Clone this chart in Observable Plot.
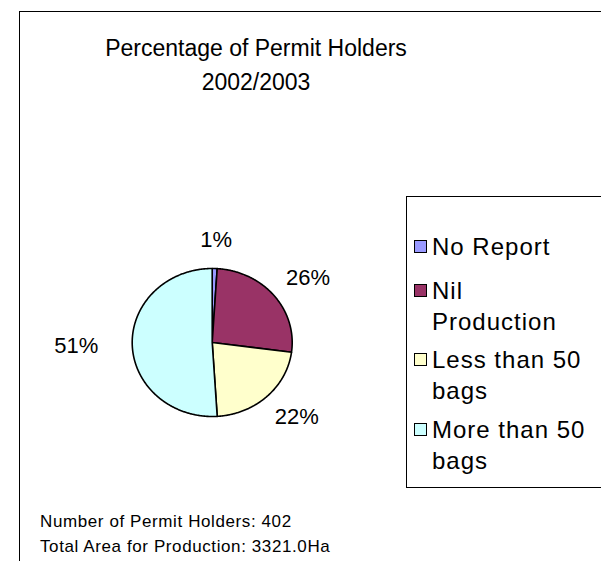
<!DOCTYPE html>
<html><head><meta charset="utf-8">
<script src="https://cdn.jsdelivr.net/npm/d3@7"></script>
<script src="https://cdn.jsdelivr.net/npm/@observablehq/plot@0.6"></script>
<style>
html,body{margin:0;padding:0;background:#fff;overflow:hidden;width:601px;height:561px;}
#wrap{position:relative;width:601px;height:561px;font-family:"Liberation Sans",Arial,sans-serif;color:#000;overflow:hidden;}
#frame{position:absolute;left:19px;top:11px;width:700px;height:700px;border-left:1px solid #000;border-top:1px solid #000;}
#chart{position:absolute;left:0;top:0;}
#title{position:absolute;left:56px;top:31px;width:400px;text-align:center;font-size:23px;line-height:34px;}
#legend{position:absolute;left:406px;top:196px;width:300px;height:290px;border:1px solid #000;background:#fff;}
.li{position:absolute;left:0;font-size:24px;line-height:31px;letter-spacing:1px;}
.sw{position:absolute;left:7px;width:11px;height:11px;border:1px solid #000;}
.lt{position:absolute;left:25px;white-space:nowrap;}
#footer{position:absolute;left:40px;top:509px;font-size:17px;line-height:25px;letter-spacing:0.6px;white-space:nowrap;}
</style></head><body>
<div id="wrap">
  <div id="frame"></div>
  <div id="chart"></div>
  <div id="title"></div>
  <div id="legend"></div>
  <div id="footer"></div>
</div>
<script>
const titleLines = ["Percentage of Permit Holders", "2002/2003"];
const categories = ["No Report", "Nil Production", "Less than 50 bags", "More than 50 bags"];
const legendLines = [["No Report"], ["Nil", "Production"], ["Less than 50", "bags"], ["More than 50", "bags"]];
const holders = [4, 105, 88, 205];
const percentLabels = ["1%", "26%", "22%", "51%"];
const footerLines = ["Number of Permit Holders: 402", "Total Area for Production: 3321.0Ha"];
const sliceColors = ["#9999FF", "#993366", "#FFFFCC", "#CCFFFF"];

const total = d3.sum(holders);
let acc = 0;
const slices = categories.map((c, i) => {
  const a0 = acc / total * 2 * Math.PI;
  acc += holders[i];
  const a1 = acc / total * 2 * Math.PI;
  return {cat: c, a0, a1, mid: (a0 + a1) / 2, label: percentLabels[i]};
});
const pts = [];
for (const s of slices) {
  pts.push({cat: s.cat, x: 0, y: 0});
  const n = Math.max(2, Math.ceil((s.a1 - s.a0) / (Math.PI / 360)));
  for (let k = 0; k <= n; k++) {
    const a = s.a0 + (s.a1 - s.a0) * k / n;
    pts.push({cat: s.cat, x: Math.sin(a), y: Math.cos(a)});
  }
}

const plot = Plot.plot({
  width: 601, height: 561,
  marginLeft: 131.7, marginRight: 309.3, marginTop: 268, marginBottom: 145,
  x: {domain: [-1, 1], axis: null},
  y: {domain: [-1, 1], axis: null},
  color: {domain: categories, range: sliceColors},
  style: {background: "transparent", fontFamily: "'Liberation Sans', Arial, sans-serif", overflow: "visible"},
  marks: [
    Plot.line(pts, {x: "x", y: "y", z: "cat", fill: "cat", stroke: "#000", strokeWidth: 1.6, curve: "linear-closed", strokeLinejoin: "round"}),
    Plot.text(slices, {x: d => (d.mid > Math.PI * 1.25 ? 1.7 : 1.55) * Math.sin(d.mid), y: d => 1.38 * Math.cos(d.mid), text: "label", fontSize: 22, fill: "#000"})
  ]
});
document.getElementById("chart").appendChild(plot);

document.getElementById("title").innerHTML = titleLines.map(t => `<div>${t}</div>`).join("");
const legendTops = [34, 78, 147, 217];
document.getElementById("legend").innerHTML = legendLines.map((lines, i) =>
  `<div class="li" style="top:${legendTops[i]}px"><div class="sw" style="top:9px;background:${sliceColors[i]}"></div><div class="lt">${lines.map(l => `<div>${l}</div>`).join("")}</div></div>`
).join("");
document.getElementById("footer").innerHTML = footerLines.map(t => `<div>${t}</div>`).join("");
</script>
</body></html>
